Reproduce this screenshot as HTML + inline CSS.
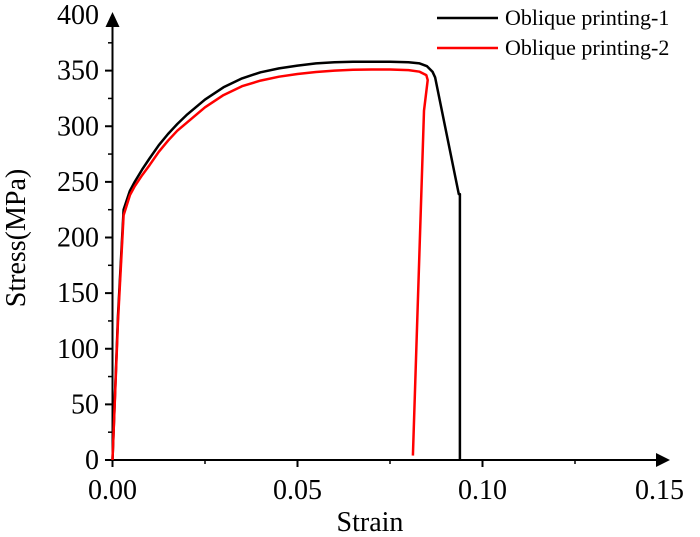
<!DOCTYPE html>
<html><head><meta charset="utf-8"><style>
body{margin:0;background:#fff}
svg{display:block;font-family:"Liberation Serif",serif}
</style></head><body>
<svg id="c" width="700" height="537"></svg>
<script>
const xTicks=[0,0.05,0.10,0.15];
const xTickLabels=["0.00","0.05","0.10","0.15"];
const yTicks=[0,50,100,150,200,250,300,350,400];
const s1Strain=[0,0.0015,0.003,0.0047,0.006,0.008,0.01,0.0125,0.015,0.0175,0.02,0.025,0.03,0.035,0.04,0.045,0.05,0.055,0.06,0.065,0.07,0.075,0.08,0.083,0.085,0.0865,0.0872,0.0936,0.0939,0.0939];
const s1Stress=[0,130,225,242,250,261,271,283,293,302,310,324,335,343,348.5,352,354.5,356.5,357.5,358,358,358,357.5,356.5,354,349,344,239,239,0];
const s2Strain=[0,0.0015,0.003,0.0047,0.006,0.008,0.01,0.0125,0.015,0.0175,0.02,0.025,0.03,0.035,0.04,0.045,0.05,0.055,0.06,0.065,0.07,0.075,0.08,0.083,0.0848,0.0852,0.0842,0.0812];
const s2Stress=[0,125,220,238,246,256,265,277,287,296,303,317,328,336,341,344.5,347,348.8,350,350.8,351,351,350.5,349,346,341.5,314,4];
const X=v=>112.5+v*3700, Y=v=>460-v*1.1125;
const svg=document.getElementById('c');const NS='http://www.w3.org/2000/svg';
function el(t,a,p){const e=document.createElementNS(NS,t);for(const k in a)e.setAttribute(k,a[k]);(p||svg).appendChild(e);return e;}
let e;
e=el('line',{x1:112.5,y1:460,x2:660,y2:460,stroke:'#000','stroke-width':2});


e=el('polygon',{points:'670,460 656,453 656,467',fill:'#000'});


e=el('line',{x1:112.5,y1:460,x2:112.5,y2:24,stroke:'#000','stroke-width':2});


e=el('polygon',{points:'112.5,12 105.5,27 119.5,27',fill:'#000'});


xTicks.forEach((v,i)=>{
 if(i<xTicks.length-1){e=el('line',{x1:X(v),y1:460,x2:X(v),y2:467,stroke:'#000','stroke-width':2});
 
 
 e=el('line',{x1:X(v+0.025),y1:460,x2:X(v+0.025),y2:464,stroke:'#000','stroke-width':1.5});
 
 }
 e=el('text',{x:X(v)-(i==3?8:0),y:499,'font-size':28,'text-anchor':'middle'});e.textContent=xTickLabels[i];
 
 
});
yTicks.forEach((v,i)=>{
 if(i<yTicks.length-1){e=el('line',{x1:105,y1:Y(v),x2:112.5,y2:Y(v),stroke:'#000','stroke-width':2});
 
 
 e=el('line',{x1:108,y1:Y(v+25),x2:112.5,y2:Y(v+25),stroke:'#000','stroke-width':1.5});
 
 }
 e=el('text',{x:99,y:Y(v)+9,'font-size':28,'text-anchor':'end'});e.textContent=v;
 
 
});
e=el('text',{x:370,y:531,'font-size':28,'text-anchor':'middle'});e.textContent='Strain';


e=el('text',{x:0,y:0,'font-size':28,'text-anchor':'middle',transform:'translate(25,238) rotate(-90)'});e.textContent='Stress(MPa)';


function path(xs,ys){return xs.map((v,i)=>(i?'L':'M')+X(v).toFixed(1)+','+Y(ys[i]).toFixed(1)).join(' ');}
e=el('path',{d:path(s1Strain,s1Stress),fill:'none',stroke:'#000','stroke-width':2.5,'stroke-linejoin':'round'});


e=el('path',{d:path(s2Strain,s2Stress),fill:'none',stroke:'#f00','stroke-width':2.5,'stroke-linejoin':'round'});


[['#000','Oblique printing-1',18],['#f00','Oblique printing-2',48]].forEach(([c,t,y])=>{
 const g=el('g',{});
 
 
 el('line',{x1:437,y1:y,x2:498,y2:y,stroke:c,'stroke-width':2.5},g);
 const tx=el('text',{x:505,y:y+7,'font-size':22},g);tx.textContent=t;
});
</script>
</body></html>
